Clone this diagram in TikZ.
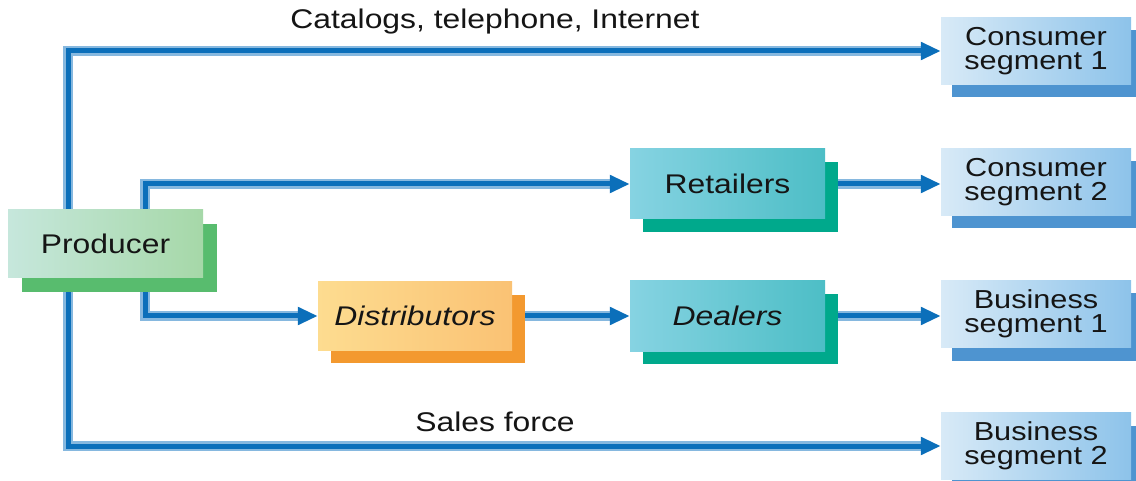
\documentclass[tikz,border=0pt]{standalone}
\usepackage{fontspec}
\setmainfont{Liberation Sans}
\newfontfamily\lab[FakeStretch=1.18]{Liberation Sans}
\usetikzlibrary{arrows.meta,shadows,backgrounds}
\definecolor{cdark}{HTML}{0B6FBA}
\definecolor{clight}{HTML}{86B8DF}
\definecolor{prodA}{HTML}{C6E7DC}
\definecolor{prodB}{HTML}{A6D8A8}
\definecolor{prodS}{HTML}{58BC6E}
\definecolor{tealA}{HTML}{86D3E2}
\definecolor{tealB}{HTML}{4DBEC6}
\definecolor{tealS}{HTML}{00A98C}
\definecolor{oraA}{HTML}{FDDC90}
\definecolor{oraB}{HTML}{FAC274}
\definecolor{oraS}{HTML}{F3992F}
\definecolor{segA}{HTML}{D8EAF7}
\definecolor{segB}{HTML}{8DC3EA}
\definecolor{segS}{HTML}{4E94D0}
\definecolor{txt}{HTML}{151515}
\tikzset{
  box/.style={inner sep=0pt, align=center, text=txt,
    font=\lab\fontsize{27}{30}\selectfont},
  prodbox/.style={box, minimum width=195pt, minimum height=68pt,
    left color=prodA, right color=prodB,
    drop shadow={shadow xshift=14pt, shadow yshift=-14pt, fill=prodS, opacity=1}},
  tealbox/.style={box, minimum width=195pt, minimum height=70pt,
    left color=tealA, right color=tealB,
    drop shadow={shadow xshift=13pt, shadow yshift=-13pt, fill=tealS, opacity=1}},
  orabox/.style={box, minimum width=194pt, minimum height=68pt,
    left color=oraA, right color=oraB,
    drop shadow={shadow xshift=13pt, shadow yshift=-13pt, fill=oraS, opacity=1}},
  segbox/.style={box, minimum width=190pt, minimum height=67pt,
    font=\lab\fontsize{26}{24}\selectfont,
    left color=segA, right color=segB,
    drop shadow={shadow xshift=11pt, shadow yshift=-13pt, fill=segS, opacity=1}},
  conn/.style={draw=cdark, line width=5pt,
    -{Triangle[length=20pt,width=17pt]},
    preaction={draw=clight, line width=10pt, arrows=-, shorten >=18pt}},
  lbl/.style={text=txt, font=\lab\fontsize{27}{30}\selectfont, inner sep=0pt}
}
\begin{document}
\begin{tikzpicture}[x=1pt,y=-1pt]
\useasboundingbox (0,0) rectangle (1136,481);

\node[prodbox] (prod) at (105.5,244) {Producer};
\node[tealbox] (ret) at (727.5,184) {Retailers};
\node[orabox] (dist) at (415,316) {\itshape Distributors};
\node[tealbox] (deal) at (727.5,316) {\itshape Dealers};
\node[segbox] (cs1) at (1036,51) {Consumer\\segment 1};
\node[segbox] (cs2) at (1036,182) {Consumer\\segment 2};
\node[segbox] (bs1) at (1036,314) {Business\\segment 1};
\node[segbox] (bs2) at (1036,446) {Business\\segment 2};

\node[lbl] (cat) at (495,22) {Catalogs, telephone, Internet};
\node[lbl] (sf) at (495,422) {Sales force};

\coordinate (L) at (68,0);
\coordinate (R) at (145,0);

\begin{scope}[on background layer]
\fill[white] (0,0) rectangle (1136,481);
\draw[conn] (L |- prod.north) |- (cs1.west);
\draw[conn] (R |- prod.north) |- (ret.west);
\draw[conn] (R |- prod.south) |- (dist.west);
\draw[conn] (L |- prod.south) |- (bs2.west);
\draw[conn] (ret.east) -- (ret.east -| cs2.west);
\draw[conn] (dist.east) -- (deal.west);
\draw[conn] (deal.east) -- (deal.east -| bs1.west);
\end{scope}
\end{tikzpicture}
\end{document}
